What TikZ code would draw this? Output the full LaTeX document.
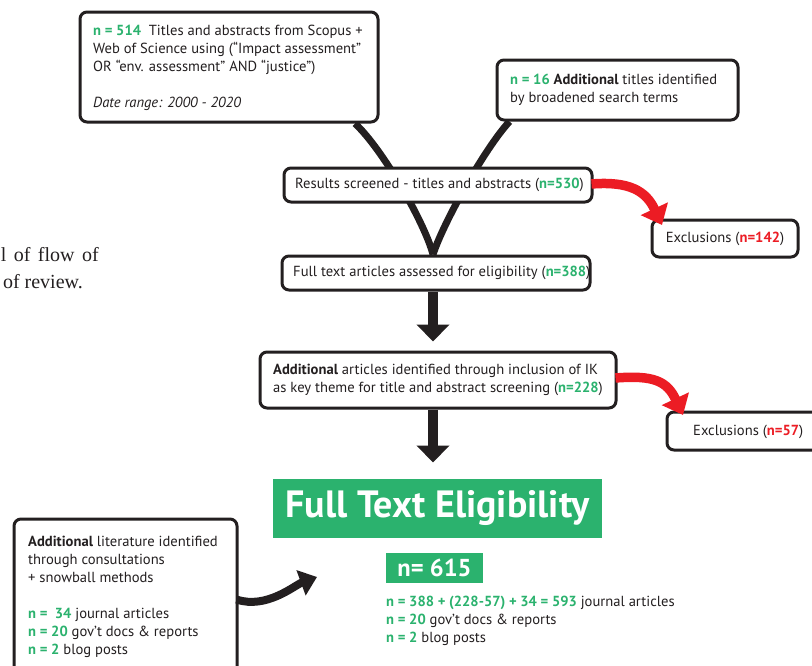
\documentclass[tikz,border=0pt]{standalone}
\usepackage{fontspec}
\setmainfont{PT Sans}
\newfontfamily\capfont{Liberation Serif}
\usetikzlibrary{arrows.meta,calc}
\definecolor{grn}{RGB}{43,178,110}
\definecolor{rd}{RGB}{236,28,36}
\definecolor{ink}{RGB}{35,31,32}
\pgfdeclarelayer{bg}
\pgfsetlayers{bg,main}
\newcommand{\gn}[1]{\textcolor{grn}{\textbf{#1}}}
\newcommand{\rn}[1]{\textcolor{rd}{\textbf{#1}}}
\begin{document}
\begin{tikzpicture}[x=1pt,y=-1pt,
  box/.style={draw=ink,line width=3pt,rounded corners=7pt,fill=white,inner sep=0pt},
  txt/.style={inner sep=0pt,align=left,text=ink,font=\fontsize{14.6}{18}\selectfont},
  gbox/.style={fill=grn,inner sep=0pt,text=white},
  flow/.style={draw=ink,line width=7pt},
  down/.style={draw=ink,line width=10pt,-{Triangle[width=32pt,length=17pt]}},
  excl/.style={draw=rd,line width=9.5pt,-{Triangle[width=29pt,length=18pt]}},
  side/.style={draw=ink,line width=8pt,-{Triangle[width=26pt,length=17pt]}},
  captext/.style={inner sep=0pt,anchor=base east,font=\capfont\fontsize{20}{24}\selectfont,text=ink}]
\useasboundingbox (0,0) rectangle (812,665);

% boxes
\node[box,minimum width=298pt,minimum height=110pt] (A) at (229,67) {};
\node[box,minimum width=241pt,minimum height=60pt] (B) at (617.5,90) {};
\node[box,minimum width=308pt,minimum height=34pt] (C) at (438,185) {};
\node[box,minimum width=146pt,minimum height=37pt] (X1) at (725,238.5) {};
\node[box,minimum width=308pt,minimum height=34pt] (D) at (436,273) {};
\node[box,minimum width=356pt,minimum height=56pt] (E) at (438,380) {};
\node[box,minimum width=160pt,minimum height=38pt] (X2) at (747,431) {};
\node[box,minimum width=223pt,minimum height=161pt] (F) at (125.5,599.5) {};
\node[gbox,minimum width=329pt,minimum height=59pt,font=\fontsize{38}{44}\selectfont\bfseries] (G) at (437.5,508.5) {Full Text Eligibility};
\node[gbox,minimum width=97pt,minimum height=30pt,font=\fontsize{24.5}{28}\selectfont\bfseries] (N) at (434.5,568) {n= 615};

% texts
\node[txt,anchor=west] (At) at (93,68) {\gn{n = 514}\ \ Titles and abstracts from Scopus +\\Web of Science using (“Impact assessment”\\OR “env. assessment” AND “justice”)\\[18pt]\textit{Date range: 2000 - 2020}};
\node[txt,anchor=west] (Bt) at (510,89.5) {\gn{n = 16} \textbf{Additional} titles identified\\by broadened search terms};
\node[txt,anchor=west] (Ct) at (295,185) {Results screened - titles and abstracts (\gn{n=530})};
\node[txt] (X1t) at (725,239) {Exclusions (\rn{n=142})};
\node[txt,anchor=west] (Dt) at (293,273) {Full text articles assessed for eligibility (\gn{n=388})};
\node[txt,anchor=west] (Et) at (273,380) {\textbf{Additional} articles identified through inclusion of IK\\as key theme for title and abstract screening (\gn{n=228})};
\node[txt,anchor=west] (X2t) at (693,432) {Exclusions (\rn{n=57})};
\node[txt,anchor=west] (Lt) at (386,621) {\gn{n = 388 + (228-57) + 34 = 593} journal articles\\\gn{n = 20} gov’t docs \& reports\\\gn{n = 2} blog posts};
\node[txt,anchor=west] (Ft) at (28,597) {\textbf{Additional} literature identified\\through consultations\\+ snowball methods\\[18pt]\gn{n = \ 34} journal articles\\\gn{n = 20} gov’t docs \& reports\\\gn{n = 2} blog posts};
\node[captext] (cap1) at (99,261) {l\hspace{7.5pt}of\hspace{7.5pt}flow\hspace{7.5pt}of};
\node[captext] (cap2) at (83,288) {of review.};

% funnel curves behind boxes
\coordinate (a0) at ($(A.south)+(126,0)$);
\coordinate (b0) at ($(B.south)+(-108,0)$);
\coordinate (d0) at ($(D.north)+(-3,0)$);
\begin{pgfonlayer}{bg}
\draw[flow] (a0) .. controls ($(a0)+(28,26)$) and ($(d0)+(-8,-31)$) .. (d0);
\draw[flow] (b0) .. controls ($(b0)+(-25,27)$) and ($(d0)+(10,-31)$) .. (d0);
\end{pgfonlayer}

% straight arrows
\coordinate (d1) at ($(D.south)+(-3,0)$);
\coordinate (d2) at ($(d1)+(0,50)$);
\draw[down] (d1) -- (d2);
\coordinate (e1) at ($(E.south)+(-5,0)$);
\coordinate (e2) at ($(e1)+(0,53)$);
\draw[down] (e1) -- (e2);

% red exclusion arrows
\coordinate (c1) at ($(C.east)+(-2,-1)$);
\coordinate (x1) at (662,225);
\draw[excl] (c1) .. controls ($(c1)+(38,-3)$) and ($(x1)+(-16,-34)$) .. (x1);
\coordinate (ee) at ($(E.east)+(-2,-2)$);
\coordinate (x2) at (683,415);
\draw[excl] (ee) .. controls ($(ee)+(38,-3)$) and ($(x2)+(-16,-34)$) .. (x2);

% side arrow
\coordinate (f1) at ($(F.east)+(-2,0)$);
\coordinate (g1) at (317,577);
\draw[side] (f1) .. controls ($(f1)+(30,10)$) and ($(g1)+(-22,8)$) .. (g1);
\end{tikzpicture}
\end{document}
